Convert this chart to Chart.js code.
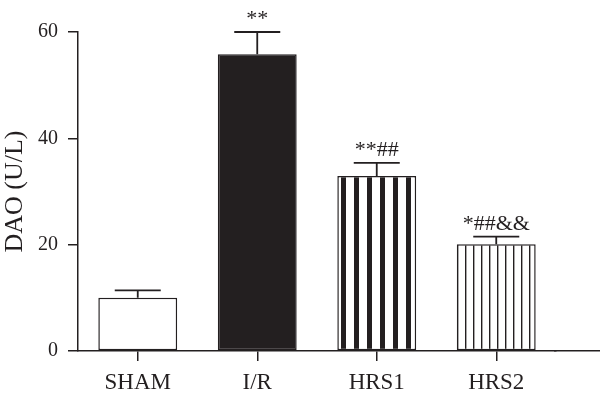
<!DOCTYPE html>
<html>
<head>
<meta charset="utf-8">
<script src="https://cdn.jsdelivr.net/npm/chart.js@4/dist/chart.umd.min.js"></script>
<style>
  html, body { margin: 0; padding: 0; background: #fff; }
  #wrap { width: 600px; height: 399px; }
</style>
</head>
<body>
<div id="wrap"><canvas id="c" width="600" height="399"></canvas></div>
<script>
// data
var categories = ['SHAM', 'I/R', 'HRS1', 'HRS2'];
var means = [10.0, 55.8, 32.9, 20.1];
var sems = [1.4, 4.2, 2.5, 1.4];
var marks = ['', '**', '**##', '*##&&'];
var yTicks = [0, 20, 40, 60];

var INK = '#231f20';
var SERIF = '"Liberation Serif", "DejaVu Serif", serif';
var AXIS_W = 1.5;

// vertical stripe pattern, anchored to the bar's left edge
function stripes(ctx, period, ink, start) {
    var c = document.createElement('canvas');
    c.width = period;
    c.height = 4;
    var g = c.getContext('2d');
    g.fillStyle = '#fff';
    g.fillRect(0, 0, period, 4);
    g.fillStyle = INK;
    g.fillRect(0, 0, ink, 4);
    var p = ctx.createPattern(c, 'repeat');
    p.setTransform(new DOMMatrix([1, 0, 0, 1, Math.round(start), 0]));
    return p;
}

function barFill(context) {
    var chart = context.chart, i = context.dataIndex;
    var x = chart.scales.x;
    if (!x || x.width === undefined) return '#fff';
    var cx = x.getPixelForValue(i);
    var half = x.width / categories.length * 0.66 / 2;
    if (i === 1) return INK;
    if (i === 2) return stripes(chart.ctx, 13, 5, cx - half + 4);
    if (i === 3) return stripes(chart.ctx, 8, 1.4, cx - half + 8);
    return '#fff';
}

// error bars (upper half only) and significance marks
var errorBars = {
    id: 'errorBars',
    afterDatasetsDraw: function (chart) {
        var ctx = chart.ctx, y = chart.scales.y;
        var meta = chart.getDatasetMeta(0);
        ctx.save();
        ctx.strokeStyle = INK;
        ctx.lineWidth = 1.8;
        meta.data.forEach(function (bar, i) {
            var top = y.getPixelForValue(means[i] + sems[i]);
            var base = y.getPixelForValue(means[i]);
            ctx.beginPath();
            ctx.moveTo(bar.x, base);
            ctx.lineTo(bar.x, top);
            ctx.moveTo(bar.x - 23, top);
            ctx.lineTo(bar.x + 23, top);
            ctx.stroke();
            if (marks[i]) {
                ctx.fillStyle = INK;
                ctx.font = '22px ' + SERIF;
                ctx.textAlign = 'center';
                ctx.textBaseline = 'alphabetic';
                ctx.fillText(marks[i], bar.x, top - 7);
            }
        });
        ctx.restore();
    },
    // x axis line runs on to the right edge of the figure
    afterDraw: function (chart) {
        var ctx = chart.ctx, xs = chart.scales.x;
        // same pixel alignment Chart.js uses for the axis border
        var hw = AXIS_W / 2;
        var yb = Math.round(xs.top - hw) + hw;
        ctx.save();
        ctx.strokeStyle = INK;
        ctx.lineWidth = AXIS_W;
        ctx.beginPath();
        ctx.moveTo(xs.right - 2, yb);
        ctx.lineTo(chart.width, yb);
        ctx.stroke();
        ctx.restore();
    }
};

new Chart(document.getElementById('c'), {
    type: 'bar',
    data: {
        labels: categories,
        datasets: [{
            data: means,
            backgroundColor: barFill,
            borderColor: INK,
            borderWidth: 1.5,
            borderSkipped: false,
            barPercentage: 0.66,
            categoryPercentage: 1
        }]
    },
    options: {
        responsive: false,
        animation: false,
        layout: { padding: { top: 32, right: 44, bottom: 0, left: 0 } },
        plugins: { legend: { display: false }, tooltip: { enabled: false } },
        scales: {
            x: {
                offset: true,
                grid: { offset: false, drawOnChartArea: false, tickLength: 10, color: INK, lineWidth: AXIS_W },
                border: { color: INK, width: AXIS_W },
                ticks: { color: INK, padding: 8, font: { family: SERIF, size: 23 } },
                afterFit: function (s) { s.height = 48; }
            },
            y: {
                min: 0,
                max: 60,
                afterBuildTicks: function (s) { s.ticks = yTicks.map(function (v) { return { value: v }; }); },
                grid: { drawOnChartArea: false, tickLength: 10, color: INK, lineWidth: AXIS_W },
                border: { color: INK, width: AXIS_W },
                ticks: { color: INK, padding: 10, font: { family: SERIF, size: 20 } },
                title: {
                    display: true,
                    text: 'DAO (U/L)',
                    color: INK,
                    padding: 0,
                    font: { family: SERIF, size: 26, lineHeight: 1.15 }
                },
                afterFit: function (s) { s.width = 78; }
            }
        }
    },
    plugins: [errorBars]
});
</script>
</body>
</html>
